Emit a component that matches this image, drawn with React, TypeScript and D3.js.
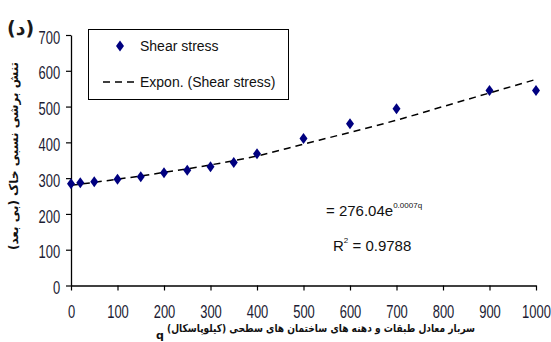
import React, { useRef, useEffect } from "react";
import * as d3 from "d3";

// داده ها از روی نمودار خوانده شده
const loads = [0, 20, 50, 100, 150, 200, 250, 300, 350, 400, 500, 600, 700, 900, 1000];
const shearStress = [284, 287, 290, 297, 304, 315, 322, 332, 344, 368, 411, 452, 494, 545, 545];

// خط روند نمایی (خوانده شده از شکل)
const trendLoads = [0, 100, 200, 300, 400, 500, 600, 700, 800, 900, 1000];
const trendValues = [280, 297, 316, 337, 362, 395, 428, 462, 500, 538, 576];

const xTicks = [0, 100, 200, 300, 400, 500, 600, 700, 800, 900, 1000];
const yTicks = [0, 100, 200, 300, 400, 500, 600, 700];

const legendLabels = ["Shear stress", "Expon. (Shear stress)"];

const W = 551;
const H = 342;

const App = () => {
  const ref = useRef<SVGSVGElement>(null);

  useEffect(() => {
    const svg = d3.select(ref.current);
    svg.selectAll("*").remove();

    const x = d3.scaleLinear().domain([0, 1000]).range([71, 536]);
    const y = d3.scaleLinear().domain([0, 700]).range([285.5, 35]);

    const tickFont = "'Liberation Sans', Arial, sans-serif";
    const faFont = "'DejaVu Sans', sans-serif";

    // محور افقی
    const gx = svg
      .append("g")
      .attr("transform", `translate(0,${y(0)})`)
      .call(
        d3
          .axisBottom(x)
          .tickValues(xTicks)
          .tickFormat(d3.format("d"))
          .tickSize(5)
          .tickSizeOuter(0)
      );
    gx.select(".domain").attr("stroke", "#000").attr("stroke-width", 1.3);
    gx.selectAll(".tick line").attr("stroke", "#000").attr("stroke-width", 1.2);
    gx.selectAll(".tick text")
      .attr("font-family", tickFont)
      .attr("font-size", 18)
      .attr("fill", "#1c1c33")
      .attr("y", 20)
      .attr("transform", "scale(0.72,1)");

    // محور عمودی
    const gy = svg
      .append("g")
      .attr("transform", `translate(${x(0)},0)`)
      .call(d3.axisLeft(y).tickValues(yTicks).tickSize(5).tickSizeOuter(0));
    gy.select(".domain").attr("stroke", "#000").attr("stroke-width", 1.3);
    gy.selectAll(".tick line").attr("stroke", "#000").attr("stroke-width", 1.2);
    gy.selectAll(".tick text")
      .attr("font-family", tickFont)
      .attr("font-size", 18)
      .attr("fill", "#1c1c33")
      .attr("x", -15)
      .attr("dy", "0.45em")
      .attr("transform", "scale(0.72,1)");

    // خط روند
    const line = d3
      .line<number>()
      .x((d, i) => x(trendLoads[i]))
      .y((d) => y(d))
      .curve(d3.curveMonotoneX);
    svg
      .append("path")
      .datum(trendValues)
      .attr("d", line)
      .attr("fill", "none")
      .attr("stroke", "#000")
      .attr("stroke-width", 1.5)
      .attr("stroke-dasharray", "7,5");

    // نقاط
    const diamond = "M0,-5.5L4,0L0,5.5L-4,0Z";
    svg
      .append("g")
      .selectAll("path")
      .data(shearStress)
      .join("path")
      .attr("d", diamond)
      .attr("transform", (d, i) => `translate(${x(loads[i])},${y(d)})`)
      .attr("fill", "#000080");

    // راهنما
    const lg = svg.append("g");
    lg.append("rect")
      .attr("x", 88.5)
      .attr("y", 29.5)
      .attr("width", 200)
      .attr("height", 70)
      .attr("fill", "#fff")
      .attr("stroke", "#000")
      .attr("stroke-width", 1);
    lg.append("path")
      .attr("d", diamond)
      .attr("transform", "translate(120,46)")
      .attr("fill", "#000080");
    lg.append("line")
      .attr("x1", 103)
      .attr("x2", 137)
      .attr("y1", 82)
      .attr("y2", 82)
      .attr("stroke", "#000")
      .attr("stroke-width", 1.5)
      .attr("stroke-dasharray", "7,5");
    lg.selectAll("text.lg")
      .data(legendLabels)
      .join("text")
      .attr("class", "lg")
      .attr("x", 140)
      .attr("y", (d, i) => 51 + i * 36)
      .attr("font-family", tickFont)
      .attr("font-size", 14)
      .attr("fill", "#111")
      .text((d) => d);

    // معادله
    const eq = svg
      .append("text")
      .attr("x", 326)
      .attr("y", 216)
      .attr("font-family", tickFont)
      .attr("font-size", 15)
      .attr("fill", "#111");
    eq.append("tspan").text("= 276.04e");
    eq.append("tspan").attr("font-size", 8).attr("dy", -8).text("0.0007q");

    const r2 = svg
      .append("text")
      .attr("x", 333)
      .attr("y", 251)
      .attr("font-family", tickFont)
      .attr("font-size", 15)
      .attr("fill", "#111");
    r2.append("tspan").text("R");
    r2.append("tspan").attr("font-size", 8).attr("dy", -8).text("2");
    r2.append("tspan").attr("dy", 8).text(" = 0.9788");

    // عنوان ها
    svg
      .append("text")
      .attr("x", 7)
      .attr("y", 35)
      .attr("font-family", faFont)
      .attr("font-weight", "bold")
      .attr("font-size", 19)
      .attr("fill", "#1a1a1a")
      .text("(د)");

    svg
      .append("text")
      .attr("x", 475)
      .attr("y", 332)
      .attr("text-anchor", "end")
      .attr("font-family", faFont)
      .attr("font-weight", "bold")
      .attr("font-size", 11)
      .attr("textLength", 308)
      .attr("lengthAdjust", "spacingAndGlyphs")
      .attr("fill", "#111")
      .text("سربار معادل طبقات و دهنه های ساختمان های سطحی (کیلوپاسکال)\u200F");
    svg
      .append("text")
      .attr("x", 156)
      .attr("y", 339)
      .attr("font-family", faFont)
      .attr("font-weight", "bold")
      .attr("font-size", 11)
      .attr("fill", "#111")
      .text("q");

    svg
      .append("text")
      .attr("transform", "translate(18,156) rotate(-90)")
      .attr("text-anchor", "middle")
      .attr("font-family", faFont)
      .attr("font-weight", "bold")
      .attr("font-size", 12)
      .attr("fill", "#111")
      .text("تنش برشی نسبی خاک (بی بعد)\u200F");
  }, []);

  return (
    <svg
      ref={ref}
      width={W}
      height={H}
      style={{ position: "absolute", left: 0, top: 0, background: "#fff" }}
    />
  );
};

export default App;
